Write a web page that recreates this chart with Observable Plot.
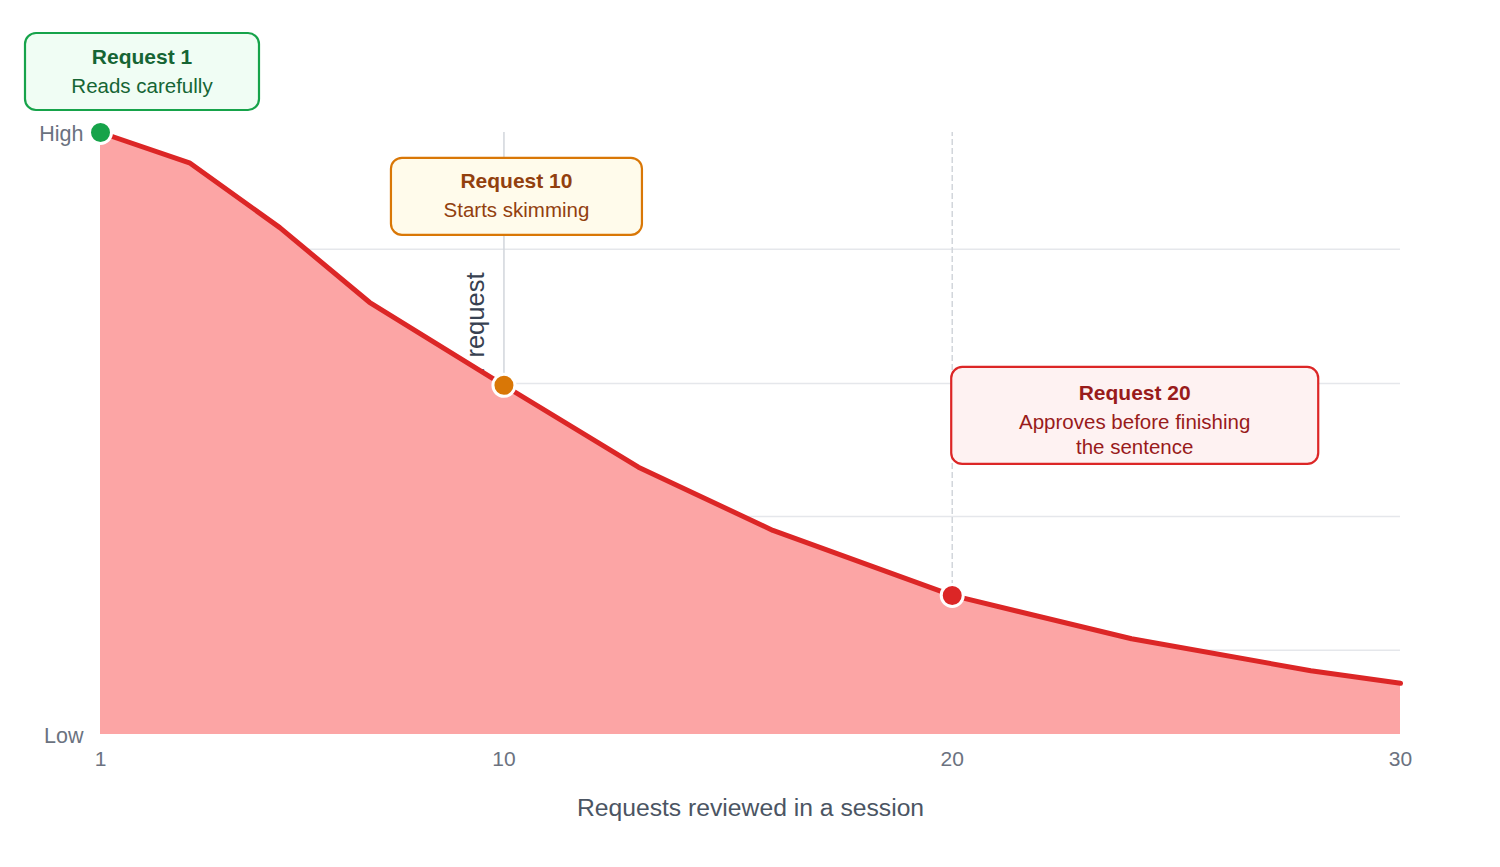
<!DOCTYPE html>
<html>
<head>
<meta charset="utf-8">
<script src="https://cdn.jsdelivr.net/npm/d3@7"></script>
<script src="https://cdn.jsdelivr.net/npm/@observablehq/plot@0.6"></script>
<style>
  body { margin: 0; background: #ffffff; }
  #chart svg { display: block; }
</style>
</head>
<body>
<div id="chart"></div>
<script>
// ---- data ----
const requests  = [1, 3, 5, 7, 10, 13, 16, 20, 24, 28, 30];
const attention = [100, 94.9, 84.2, 71.8, 58.0, 44.4, 33.9, 23.1, 15.9, 10.6, 8.5];
const yTickValues = [0, 100];
const yTickLabels = ["Low", "High"];
const xTickValues = [1, 10, 20, 30];
const gridValues  = [14, 36.2, 58.3, 80.6];
const markerRequests = [1, 10, 20];
const markerTitles = ["Request 1", "Request 10", "Request 20"];
const markerNotes  = [["Reads carefully"], ["Starts skimming"], ["Approves before finishing", "the sentence"]];
const xLabel = "Requests reviewed in a session";
const yLabel = "Attention per request";

// ---- styles ----
const markerStyle = [
  {dot: "#16a34a", stroke: "#16a34a", fill: "#f0fdf4", text: "#166534", dx: 42,  top: -99,  w: 234, h: 77, ty: 23},
  {dot: "#d97706", stroke: "#d97706", fill: "#fffbeb", text: "#92400e", dx: 13,  top: -227, w: 251, h: 77, ty: 23},
  {dot: "#dc2626", stroke: "#dc2626", fill: "#fef2f2", text: "#991b1b", dx: 183, top: -228, w: 367, h: 97, ty: 26}
];
const FONT = "'Liberation Sans', Arial, Helvetica, sans-serif";

const series = requests.map((r, i) => ({r, a: attention[i]}));
const markers = markerRequests.map((r, i) => ({
  r, a: attention[requests.indexOf(r)], title: markerTitles[i], notes: markerNotes[i], s: markerStyle[i]
}));

const chart = Plot.plot({
  width: 1500,
  height: 867,
  marginLeft: 100,
  marginRight: 100,
  marginTop: 132,
  marginBottom: 133,
  style: {fontFamily: FONT, color: "#6b7280", background: "#ffffff"},
  x: {domain: [1, 30]},
  y: {domain: [0, 100]},
  marks: [
    Plot.ruleY(gridValues, {stroke: "#e5e7eb", strokeWidth: 1.5}),
    Plot.ruleX(markers.slice(1, 2), {x: "r", y1: "a", y2: 100, stroke: "#d1d5db", strokeWidth: 1.5}),
    Plot.ruleX(markers.slice(2, 3), {x: "r", y1: "a", y2: 100, stroke: "#d1d5db", strokeWidth: 1.5, strokeDasharray: "6,3"}),
    Plot.text([yLabel], {frameAnchor: "top-left", dx: 375, dy: 140, rotate: -90, textAnchor: "end", lineAnchor: "middle", fontSize: 25.5, fill: "#374151"}),
    Plot.areaY(series, {x: "r", y: "a", fill: "#fca5a5", fillOpacity: 1}),
    Plot.lineY(series, {x: "r", y: "a", stroke: "#dc2626", strokeWidth: 5, strokeLinejoin: "round", strokeLinecap: "round"}),
    Plot.axisY(yTickValues, {tickSize: 0, tickPadding: 17, fontSize: 21.5, dy: 2, tickFormat: d => yTickLabels[yTickValues.indexOf(d)], label: null}),
    Plot.axisX(xTickValues, {tickSize: 0, tickPadding: 17, fontSize: 21, label: null}),
    Plot.text([xLabel], {frameAnchor: "bottom", dy: 81, fontSize: 24.7, fill: "#4b5563"}),
    Plot.dot(markers, {x: "r", y: "a", r: 11, fill: d => d.s.dot, stroke: "#ffffff", strokeWidth: 3}),
    Plot.text(markers, {
      x: "r", y: "a", text: "title",
      render(index, scales, values) {
        const g = d3.create("svg:g").attr("font-family", FONT);
        for (const i of index) {
          const m = markers[i], s = m.s;
          const cx = values.x[i] + s.dx;
          const top = values.y[i] + s.top;
          g.append("rect")
            .attr("x", cx - s.w / 2).attr("y", top)
            .attr("width", s.w).attr("height", s.h)
            .attr("rx", 11).attr("ry", 11)
            .attr("fill", s.fill).attr("stroke", s.stroke).attr("stroke-width", 2.2);
          g.append("text")
            .attr("x", cx).attr("y", top + s.ty)
            .attr("text-anchor", "middle").attr("dominant-baseline", "central")
            .attr("font-size", 21).attr("font-weight", "bold").attr("fill", s.text)
            .text(m.title);
          m.notes.forEach((line, k) => {
            g.append("text")
              .attr("x", cx).attr("y", top + s.ty + 29 + k * 25)
              .attr("text-anchor", "middle").attr("dominant-baseline", "central")
              .attr("font-size", 20.5).attr("fill", s.text)
              .text(line);
          });
        }
        return g.node();
      }
    })
  ]
});
document.getElementById("chart").appendChild(chart);
</script>
</body>
</html>
